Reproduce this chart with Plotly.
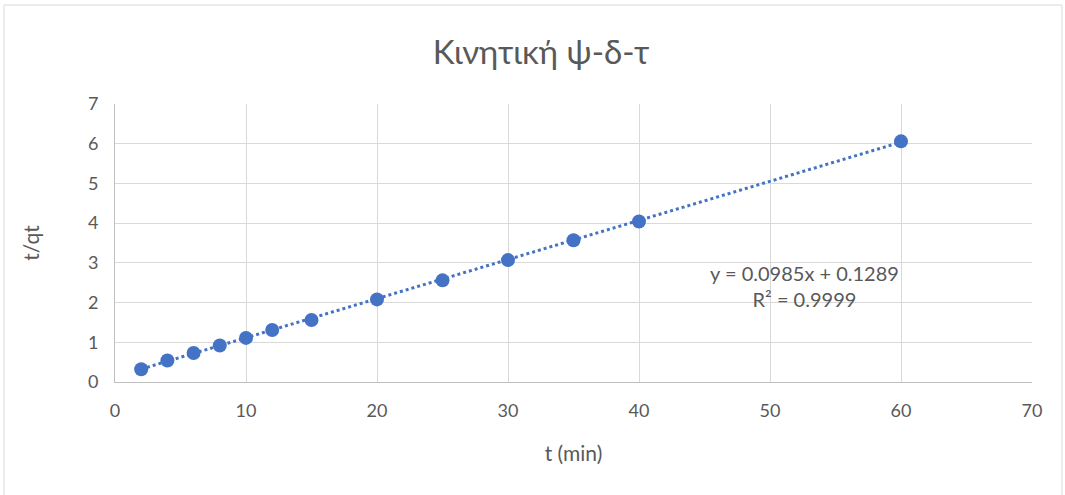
import plotly.graph_objects as go

# Kinetic data: time (min) vs t/qt
t_min = [2, 4, 6, 8, 10, 12, 15, 20, 25, 30, 35, 40, 60]
t_over_qt = [0.32, 0.54, 0.73, 0.92, 1.11, 1.31, 1.56, 2.08, 2.56, 3.07, 3.57, 4.04, 6.06]

# Linear trendline parameters
slope = 0.0985
intercept = 0.1289
r_squared = 0.9999

x_ticks = [0, 10, 20, 30, 40, 50, 60, 70]
y_ticks = [0, 1, 2, 3, 4, 5, 6, 7]

BLUE = "#4472C4"
TEXT = "#595959"
GRID = "#D9D9D9"
FONT = "Lato, Open Sans, sans-serif"

W, H = 1065, 495
ML, MR, MT, MB = 115, 33, 104, 113

fig = go.Figure()

trend_x = [min(t_min), max(t_min)]
trend_y = [slope * x + intercept for x in trend_x]
fig.add_trace(go.Scatter(
    x=trend_x, y=trend_y, mode="lines",
    line=dict(color=BLUE, width=3, dash="dot"),
    hoverinfo="skip", showlegend=False,
))

fig.add_trace(go.Scatter(
    x=t_min, y=t_over_qt, mode="markers",
    marker=dict(color=BLUE, size=14, line=dict(width=0)),
    showlegend=False,
))

fig.add_annotation(
    x=52.6, y=2.42, xref="x", yref="y",
    text=f"y = {slope:.4f}x + {intercept:.4f}<br>R² = {r_squared:.4f}",
    showarrow=False, align="center",
    font=dict(family=FONT, size=20, color=TEXT),
)

# Chart frame (top, left, right edges)
pw = W - ML - MR
ph = H - MT - MB
def px_x(p):
    return (p - ML) / pw
def px_y(p):
    return (H - MB - p) / ph

frame = dict(color="#D9D9D9", width=1)
fig.add_shape(type="line", xref="paper", yref="paper",
              x0=px_x(4), x1=px_x(1062), y0=px_y(5), y1=px_y(5), line=frame)
fig.add_shape(type="line", xref="paper", yref="paper",
              x0=px_x(4), x1=px_x(4), y0=px_y(5), y1=px_y(495), line=frame)
fig.add_shape(type="line", xref="paper", yref="paper",
              x0=px_x(1062), x1=px_x(1062), y0=px_y(5), y1=px_y(495), line=frame)

fig.update_layout(
    width=W, height=H,
    margin=dict(l=ML, r=MR, t=MT, b=MB),
    paper_bgcolor="white", plot_bgcolor="white",
    title=dict(text="Κινητική ψ-δ-τ", x=541 / W, xanchor="center",
               y=1 - 52 / H, yanchor="middle",
               font=dict(family=FONT, size=33, color=TEXT)),
    font=dict(family=FONT, color=TEXT, size=18),
    xaxis=dict(
        range=[0, 70], tickvals=x_ticks, ticktext=[str(v) for v in x_ticks],
        showgrid=True, gridcolor=GRID, gridwidth=1,
        zeroline=False, showline=True, linecolor="#BFBFBF", linewidth=1,
        ticks="", ticklabelstandoff=12,
        title=dict(text="t (min)", standoff=26, font=dict(size=21, color=TEXT)),
        tickfont=dict(size=18, color=TEXT), mirror=False,
    ),
    yaxis=dict(
        range=[0, 7], tickvals=y_ticks, ticktext=[str(v) for v in y_ticks],
        showgrid=True, gridcolor=GRID, gridwidth=1,
        zeroline=False, showline=True, linecolor="#BFBFBF", linewidth=1,
        ticks="", ticklabelstandoff=12,
        title=dict(text="t/qt", standoff=42, font=dict(size=21, color=TEXT)),
        tickfont=dict(size=18, color=TEXT),
    ),
)

fig.write_html("out.html")
